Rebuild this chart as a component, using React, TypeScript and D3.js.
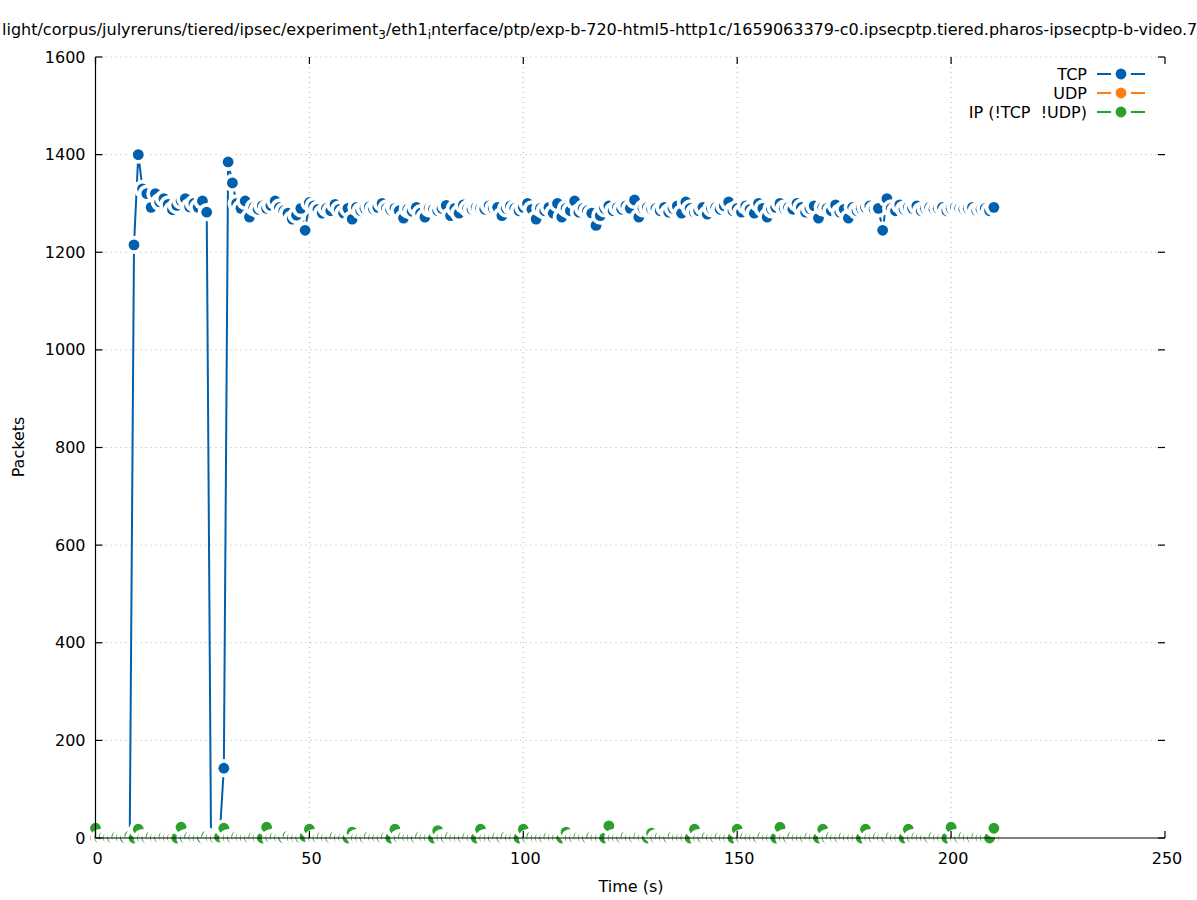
import React from "react";
import * as d3 from "d3";

const TIME: number[] = d3.range(0, 211);

const TCP: number[] = [
  0, 0, 0, 0, 0, 0, 0, 0, 0, 1215,
  1400, 1330, 1320, 1292, 1320, 1303, 1310, 1298, 1287, 1296,
  1306, 1310, 1293, 1300, 1292, 1305, 1282, 0, 0, 0,
  143, 1385, 1342, 1300, 1290, 1305, 1272, 1292, 1288, 1295,
  1290, 1296, 1305, 1292, 1285, 1280, 1268, 1276, 1290, 1245,
  1302, 1295, 1288, 1280, 1290, 1285, 1298, 1288, 1280, 1290,
  1268, 1292, 1285, 1290, 1293, 1288, 1292, 1300, 1290, 1286,
  1290, 1285, 1270, 1288, 1284, 1292, 1280, 1272, 1290, 1288,
  1285, 1290, 1296, 1275, 1290, 1280, 1297, 1290, 1288, 1292,
  1290, 1288, 1295, 1290, 1292, 1275, 1290, 1295, 1290, 1285,
  1292, 1300, 1288, 1268, 1290, 1285, 1292, 1280, 1300, 1272,
  1290, 1285, 1305, 1282, 1290, 1285, 1280, 1255, 1275, 1290,
  1295, 1285, 1292, 1288, 1295, 1290, 1307, 1272, 1290, 1292,
  1288, 1290, 1285, 1292, 1282, 1290, 1295, 1280, 1303, 1290,
  1282, 1285, 1292, 1278, 1290, 1292, 1288, 1295, 1303, 1285,
  1290, 1282, 1295, 1288, 1280, 1300, 1290, 1272, 1288, 1292,
  1300, 1290, 1292, 1288, 1300, 1292, 1282, 1290, 1295, 1270,
  1292, 1290, 1285, 1297, 1282, 1288, 1270, 1292, 1285, 1290,
  1292, 1295, 1288, 1290, 1245, 1310, 1290, 1285, 1297, 1288,
  1292, 1290, 1295, 1285, 1290, 1292, 1288, 1290, 1292, 1285,
  1290, 1292, 1290, 1288, 1290, 1292, 1285, 1288, 1290, 1285,
  1292,
];

const UDP: number[] = [
  0, 0, 0, 0, 0, 0, 0, 0, 0, 0,
  0, 0, 0, 0, 0, 0, 0, 0, 0, 0,
  0, 0, 0, 0, 0, 0, 0, 0, 0, 0,
  0, 0, 0, 0, 0, 0, 0, 0, 0, 0,
  0, 0, 0, 0, 0, 0, 0, 0, 0, 0,
  0, 0, 0, 0, 0, 0, 0, 0, 0, 0,
  0, 0, 0, 0, 0, 0, 0, 0, 0, 0,
  0, 0, 0, 0, 0, 0, 0, 0, 0, 0,
  0, 0, 0, 0, 0, 0, 0, 0, 0, 0,
  0, 0, 0, 0, 0, 0, 0, 0, 0, 0,
  0, 0, 0, 0, 0, 0, 0, 0, 0, 0,
  0, 0, 0, 0, 0, 0, 0, 0, 0, 0,
  0, 0, 0, 0, 0, 0, 0, 0, 0, 0,
  0, 0, 0, 0, 0, 0, 0, 0, 0, 0,
  0, 0, 0, 0, 0, 0, 0, 0, 0, 0,
  0, 0, 0, 0, 0, 0, 0, 0, 0, 0,
  0, 0, 0, 0, 0, 0, 0, 0, 0, 0,
  0, 0, 0, 0, 0, 0, 0, 0, 0, 0,
  0, 0, 0, 0, 0, 0, 0, 0, 0, 0,
  0, 0, 0, 0, 0, 0, 0, 0, 0, 0,
  0, 0, 0, 0, 0, 0, 0, 0, 0, 0,
  0,
];

const IP: number[] = [
  20, 0, 2, 0, 0, 3, 0, 0, 4, 0,
  18, 0, 0, 3, 0, 0, 2, 0, 0, 0,
  22, 0, 3, 0, 0, 0, 4, 0, 0, 2,
  20, 0, 0, 3, 0, 0, 0, 2, 0, 0,
  22, 0, 2, 0, 0, 4, 0, 0, 0, 3,
  18, 0, 0, 2, 0, 0, 3, 0, 0, 0,
  12, 0, 0, 0, 3, 0, 0, 0, 2, 0,
  18, 0, 2, 0, 0, 0, 3, 0, 0, 0,
  15, 0, 0, 3, 0, 0, 0, 2, 0, 0,
  18, 0, 0, 0, 2, 0, 3, 0, 0, 0,
  18, 0, 3, 0, 0, 0, 2, 0, 0, 0,
  12, 0, 0, 2, 0, 0, 3, 0, 0, 0,
  25, 0, 0, 0, 3, 0, 0, 2, 0, 0,
  10, 0, 2, 0, 0, 3, 0, 0, 0, 0,
  18, 0, 0, 3, 0, 0, 2, 0, 0, 0,
  18, 0, 2, 0, 0, 0, 3, 0, 0, 0,
  22, 0, 0, 3, 0, 0, 0, 2, 0, 0,
  18, 0, 3, 0, 0, 2, 0, 0, 0, 0,
  18, 0, 0, 2, 0, 0, 3, 0, 0, 0,
  18, 0, 2, 0, 0, 0, 3, 0, 0, 0,
  22, 0, 0, 3, 0, 0, 2, 0, 0, 0,
  20,
];

const SERIES_NAMES = ["TCP", "UDP", "IP (!TCP  !UDP)"];
const SERIES_COLORS = ["#0060ad", "#ff7f0e", "#2ca02c"];
const SERIES_VALUES = [TCP, UDP, IP];

const X_TICKS = [0, 50, 100, 150, 200, 250];
const Y_TICKS = [0, 200, 400, 600, 800, 1000, 1200, 1400, 1600];

const FONT = "'DejaVu Sans', sans-serif";

export default function App() {
  const W = 1197;
  const H = 900;
  const left = 95.5;
  const right = 1165;
  const top = 57;
  const bottom = 838;
  const x = d3.scaleLinear().domain([0, 250]).range([left, right]);
  const y = d3.scaleLinear().domain([0, 1600]).range([bottom, top]);
  const rPt = 5.4;
  const rBlank = 9.1;
  const tick = 7;

  const lineGen = (vals: number[]) =>
    d3
      .line<number>()
      .x((_, i) => x(TIME[i]))
      .y((d) => y(d))(vals) || "";

  return (
    <svg
      width={W}
      height={H}
      style={{ position: "absolute", left: 0, top: 0, display: "block", background: "#fff" }}
      fontFamily={FONT}
    >
      <rect x={0} y={0} width={W} height={H} fill="#fff" />
      {/* grid */}
      <g stroke="#b4b4b4" strokeWidth={1} strokeDasharray="1,4">
        {X_TICKS.slice(1, -1).map((t) => (
          <line key={"gx" + t} x1={x(t)} x2={x(t)} y1={top} y2={bottom} />
        ))}
        {Y_TICKS.slice(1).map((t) => (
          <line key={"gy" + t} x1={left} x2={right} y1={y(t)} y2={y(t)} />
        ))}
      </g>

      {/* series */}
      {SERIES_VALUES.map((vals, si) => (
        <g key={"s" + si}>
          <path d={lineGen(vals)} fill="none" stroke={SERIES_COLORS[si]} strokeWidth={2} />
          {vals.map((v, i) => (
            <g key={i}>
              <circle cx={x(TIME[i])} cy={y(v)} r={rBlank} fill="#fff" />
              <circle cx={x(TIME[i])} cy={y(v)} r={rPt} fill={SERIES_COLORS[si]} />
            </g>
          ))}
        </g>
      ))}

      {/* border */}
      <g stroke="#000" strokeWidth={1.2} fill="none">
        <line x1={left} x2={left} y1={top} y2={bottom} />
        <line x1={left} x2={right} y1={bottom} y2={bottom} />
        {Y_TICKS.map((t) => (
          <g key={"ty" + t}>
            <line x1={left} x2={left + tick} y1={y(t)} y2={y(t)} />
            <line x1={right} x2={right - tick} y1={y(t)} y2={y(t)} />
          </g>
        ))}
        {X_TICKS.map((t) => (
          <g key={"tx" + t}>
            <line x1={x(t)} x2={x(t)} y1={bottom} y2={bottom - tick} />
            <line x1={x(t)} x2={x(t)} y1={top} y2={top + tick} />
          </g>
        ))}
      </g>

      {/* tick labels */}
      <g fontSize={16} fill="#000">
        {Y_TICKS.map((t) => (
          <text key={"ly" + t} x={left - 10} y={y(t)} textAnchor="end" dominantBaseline="central">
            {t}
          </text>
        ))}
        {X_TICKS.map((t) => (
          <text key={"lx" + t} x={x(t) + 2} y={864} textAnchor="middle">
            {t}
          </text>
        ))}
      </g>

      {/* axis labels */}
      <text x={631} y={892} fontSize={16} textAnchor="middle">
        Time (s)
      </text>
      <text transform={`translate(24,447) rotate(-90)`} fontSize={16} textAnchor="middle">
        Packets
      </text>

      {/* title */}
      <text x={2} y={35} fontSize={16}>
        light/corpus/julyreruns/tiered/ipsec/experiment
        <tspan fontSize={12} dy={4}>3</tspan>
        <tspan dy={-4}>/eth1</tspan>
        <tspan fontSize={12} dy={4}>i</tspan>
        <tspan dy={-4}>nterface/ptp/exp-b-720-html5-http1c/1659063379-c0.ipsecptp.tiered.pharos-ipsecptp-b-video.7</tspan>
      </text>

      {/* legend */}
      {SERIES_NAMES.map((n, i) => {
        const ly = 74 + i * 19;
        return (
          <g key={"lg" + i}>
            <text
              x={1087}
              y={ly}
              fontSize={16}
              textAnchor="end"
              dominantBaseline="central"
              style={{ whiteSpace: "pre" }}
            >
              {n}
            </text>
            <line x1={1097} x2={1145} y1={ly} y2={ly} stroke={SERIES_COLORS[i]} strokeWidth={2} />
            <circle cx={1121} cy={ly} r={10} fill="#fff" />
            <circle cx={1121} cy={ly} r={rPt} fill={SERIES_COLORS[i]} />
          </g>
        );
      })}
    </svg>
  );
}
